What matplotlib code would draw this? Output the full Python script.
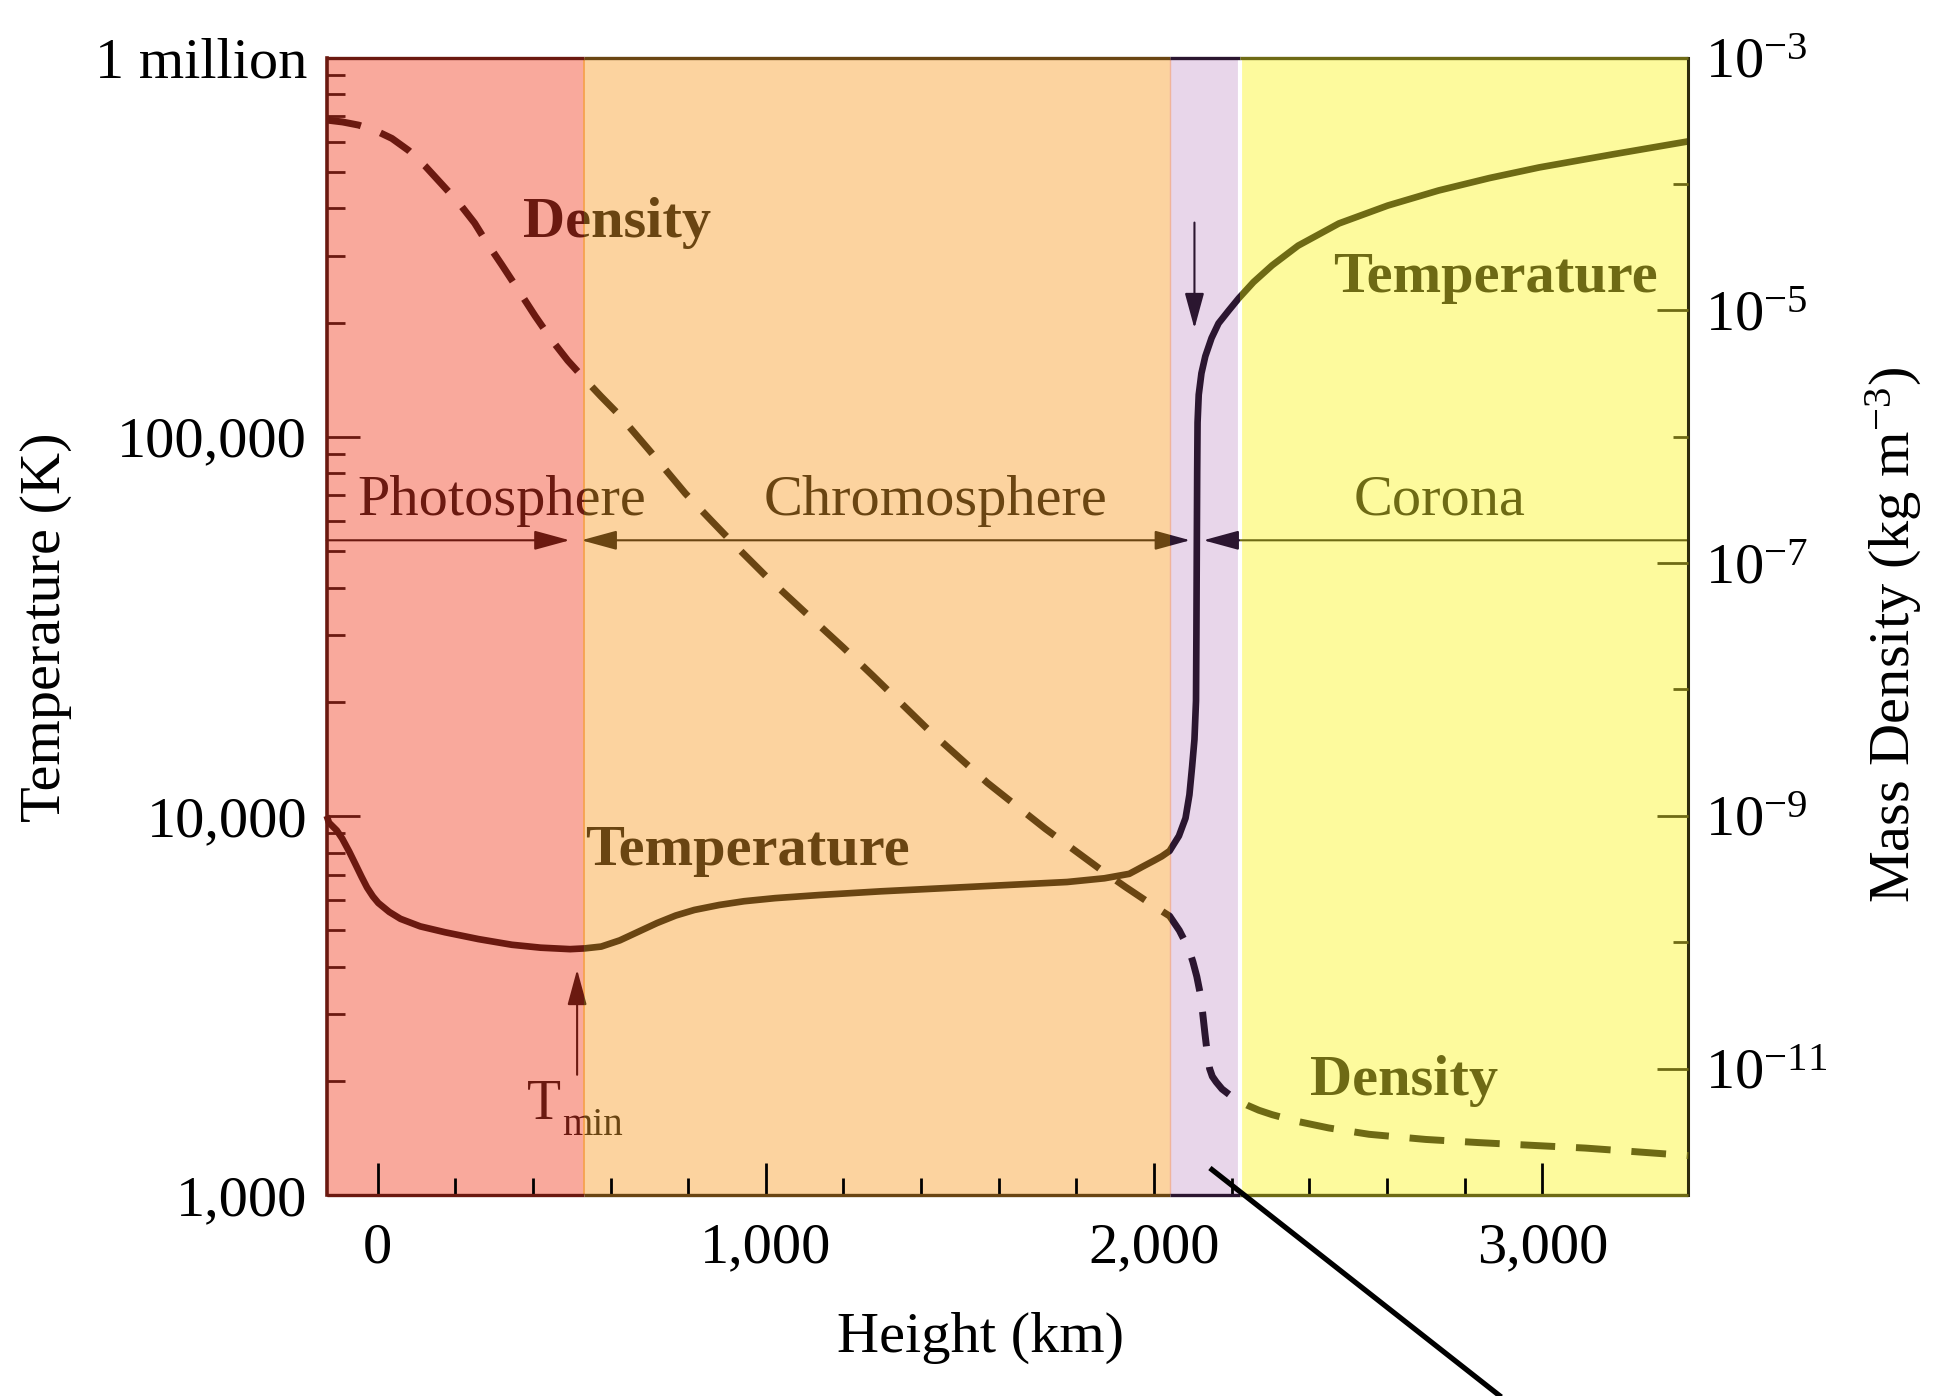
import matplotlib
matplotlib.use("Agg")
import matplotlib.pyplot as plt
from matplotlib.patches import FancyArrowPatch
from matplotlib.lines import Line2D
from matplotlib.transforms import Bbox, TransformedBbox, blended_transform_factory
from matplotlib.ticker import FixedLocator, NullFormatter, LogLocator

plt.rcParams['font.family'] = ['Liberation Serif', 'DejaVu Serif']
plt.rcParams['mathtext.fontset'] = 'custom'
plt.rcParams['mathtext.rm'] = 'Liberation Serif'
plt.rcParams['mathtext.it'] = 'Liberation Serif:italic'
plt.rcParams['mathtext.bf'] = 'Liberation Serif:bold'

# ---------------- data ----------------
# temperature profile of the solar atmosphere (height in km, T in K)
height_T = [-131, -125, -105, -91, -73, -56, -41, -27, -12, 2, 30, 59, 110, 174,
            260, 346, 420, 496, 533, 576, 624, 672, 720, 768, 816, 880, 944,
            1024, 1136, 1296, 1456, 1616, 1776, 1872, 1936, 1955, 1970, 2000,
            2020, 2040, 2064, 2081, 2091, 2098, 2104, 2108, 2109, 2110, 2111,
            2112, 2115, 2122, 2132, 2148, 2166, 2192, 2218, 2256, 2304, 2371,
            2476, 2602, 2733, 2864, 2992, 3184, 3376]
temperature = [10000, 9590, 9150, 8710, 8050, 7420, 6900, 6470, 6130, 5890, 5580,
               5350, 5110, 4930, 4730, 4570, 4490, 4450, 4470, 4520, 4694, 4948,
               5215, 5458, 5646, 5819, 5953, 6066, 6180, 6322, 6442, 6565, 6690,
               6843, 7030, 7200, 7340, 7620, 7820, 8080, 8850, 9860, 11360, 13500,
               15900, 20100, 30000, 50000, 80000, 109000, 129000, 147000, 163000,
               182000, 199000, 215000, 231700, 255600, 283000, 319000, 365000,
               407000, 446000, 481000, 513000, 556000, 601000]

# mass density profile (height in km, density in kg m^-3)
height_rho = [-131, -90, -49, -5, 37, 80, 123, 166, 209, 250, 278, 320, 363, 406,
              449, 490, 527, 575, 621, 700, 793, 860, 921, 1000, 1100, 1200, 1275,
              1420, 1571, 1720, 1867, 1926, 2000, 2040, 2065, 2089, 2100, 2110,
              2119, 2125, 2131, 2137, 2143, 2150, 2160, 2175, 2195, 2218, 2240,
              2270, 2304, 2364, 2450, 2554, 2700, 2833, 3111, 3376]
density = [3.20e-4, 3.09e-4, 2.92e-4, 2.64e-4, 2.29e-4, 1.84e-4, 1.38e-4, 9.9e-5,
           7.1e-5, 4.9e-5, 3.56e-5, 2.29e-5, 1.44e-5, 9.0e-6, 5.8e-6, 4.0e-6,
           3.0e-6, 2.09e-6, 1.50e-6, 7.8e-7, 3.55e-7, 2.16e-7, 1.38e-7, 7.9e-8,
           4.1e-8, 2.14e-8, 1.29e-8, 4.75e-9, 1.82e-9, 7.9e-10, 3.67e-10,
           2.74e-10, 1.93e-10, 1.61e-10, 1.24e-10, 8.9e-11, 7.0e-11, 5.36e-11,
           3.9e-11, 2.78e-11, 1.89e-11, 1.32e-11, 1.0e-11, 8.67e-12, 7.83e-12,
           6.89e-12, 6.18e-12, 5.58e-12, 5.13e-12, 4.68e-12, 4.32e-12, 3.85e-12,
           3.39e-12, 3.02e-12, 2.75e-12, 2.6e-12, 2.35e-12, 2.05e-12]

# atmospheric layers: edges in km
layer_edges = [-131, 533, 2040, 2222, 3376]
layer_fill = ['#F9A99C', '#FCD39F', '#E8D6EA', '#FDFA9D']
layer_ink = ['#6B1910', '#6A4512', '#2B1630', '#6E6A14']

height_ticks = [0, 1000, 2000, 3000]
height_tick_labels = ['0', '1,000', '2,000', '3,000']
height_minor = [200, 400, 600, 800, 1200, 1400, 1600, 1800, 2200, 2400, 2600, 2800]
temp_ticks = [1e3, 1e4, 1e5, 1e6]
temp_tick_labels = ['1,000', '10,000', '100,000', '1 million']
rho_ticks = [1e-3, 1e-5, 1e-7, 1e-9, 1e-11]
rho_tick_labels = [r'$\mathregular{10^{-3}}$', r'$\mathregular{10^{-5}}$',
                   r'$\mathregular{10^{-7}}$', r'$\mathregular{10^{-9}}$',
                   r'$\mathregular{10^{-11}}$']
rho_minor = [1e-4, 1e-6, 1e-8, 1e-10, 1e-12]

# ---------------- figure ----------------
fig = plt.figure(figsize=(19.48, 13.96), dpi=100)
ax = fig.add_axes([0.1677, 0.1440, 0.8667 - 0.1677, 0.9588 - 0.1440])
ax2 = ax.twinx()

xmin, xmax = layer_edges[0], layer_edges[-1]
ax.set_xlim(xmin, xmax)
ax.set_yscale('log')
ax.set_ylim(1e3, 1e6)
ax2.set_yscale('log')
ax2.set_ylim(1e-12, 1e-3)

for a in (ax, ax2):
    for s in a.spines.values():
        s.set_visible(False)

blend = blended_transform_factory(ax.transData, ax.transAxes)

# layer backgrounds
for x0, x1, fc in zip(layer_edges[:-1], layer_edges[1:], layer_fill):
    ax.axvspan(x0, x1, color=fc, lw=0, zorder=0)
ax.axvline(layer_edges[1], color='#F6A24F', lw=1.3, zorder=0.5)
ax.axvline(layer_edges[2], color='#F0B49C', lw=1.0, zorder=0.5)
ax.axvline(layer_edges[3], color='white', lw=3.0, zorder=0.5)

clip_edges = [-1e5] + layer_edges[1:-1] + [1e5]


def clip_to_layer(artist, i):
    box = TransformedBbox(Bbox.from_extents(clip_edges[i], 0, clip_edges[i + 1], 1), blend)
    artist.set_clip_box(box)
    artist.set_clip_on(True)


def per_layer(make):
    """Draw an element once per layer in that layer's ink, clipped to the layer."""
    for i, ink in enumerate(layer_ink):
        for art in make(ink):
            clip_to_layer(art, i)


# curves
per_layer(lambda c: ax.plot(height_T, temperature, color=c, lw=4.8,
                            solid_joinstyle='round', solid_capstyle='butt', zorder=3))
per_layer(lambda c: ax2.plot(height_rho, density, color=c, lw=5.0,
                             ls=(0, (5.0, 3.0)), dash_capstyle='butt',
                             dash_joinstyle='round', zorder=3))


# labels inside the plot
def label(x, y, s, size=42, weight='normal', ha='center'):
    per_layer(lambda c: [ax.text(x, y, s, color=c, fontsize=size, fontweight=weight,
                                 ha=ha, va='baseline', zorder=4)])


label(616, 335700, 'Density', weight='bold')
label(952, 7423, 'Temperature', weight='bold')
label(2878, 241000, 'Temperature', weight='bold')
label(2645, 1837, 'Density', weight='bold')
label(321, 62200, 'Photosphere')
label(1438, 62200, 'Chromosphere')
label(2735, 62200, 'Corona')
label(385, 1582, 'T', size=40, ha='left')
label(476, 1441, 'min', size=28, ha='left')

# arrows
arrow_T = 53300


def arrow(p0, p1, style):
    def make(c):
        fa = FancyArrowPatch(p0, p1, arrowstyle=style, mutation_scale=1,
                             color=c, lw=1.5, shrinkA=0, shrinkB=0, zorder=4)
        ax.add_patch(fa)
        return [fa]
    per_layer(make)


one = '-|>,head_length=22,head_width=6'
two = '<|-|>,head_length=22,head_width=6'
arrow((xmin, arrow_T), (495, arrow_T), one)
arrow((525, arrow_T), (2093, arrow_T), two)
arrow((xmax, arrow_T), (2127, arrow_T), one)
arrow((514, 2075), (514, 3930), one)
arrow((2104, 367000), (2104, 193000), one)

# frame, coloured by layer
for i, (x0, x1) in enumerate(zip(layer_edges[:-1], layer_edges[1:])):
    for yy in (0, 1):
        ax.plot([x0, x1], [yy, yy], transform=blend, color=layer_ink[i], lw=2.4,
                clip_on=False, solid_capstyle='butt', zorder=5)
ax.plot([xmin, xmin], [0, 1], transform=blend, color=layer_ink[0], lw=2.6,
        clip_on=False, solid_capstyle='projecting', zorder=5)
ax.plot([xmax, xmax], [0, 1], transform=blend, color='#2E2B0D', lw=2.2,
        clip_on=False, solid_capstyle='projecting', zorder=5)

# ticks
ax.set_xticks(height_ticks, labels=height_tick_labels)
ax.set_xticks(height_minor, minor=True)
ax.yaxis.set_major_locator(FixedLocator(temp_ticks))
ax.set_yticklabels(temp_tick_labels)
ax.yaxis.set_minor_locator(LogLocator(base=10, subs=range(2, 10)))
ax.yaxis.set_minor_formatter(NullFormatter())

ax.tick_params(axis='x', which='both', direction='in', width=2, labelsize=42,
               pad=20, top=False)
ax.tick_params(axis='x', which='major', length=23)
ax.tick_params(axis='x', which='minor', length=12)
ax.tick_params(axis='y', which='both', direction='in', width=2,
               color=layer_ink[0], labelsize=42, pad=14)
ax.tick_params(axis='y', which='major', length=24)
ax.tick_params(axis='y', which='minor', length=13)

ax2.yaxis.set_major_locator(FixedLocator(rho_ticks))
ax2.set_yticklabels(rho_tick_labels)
ax2.yaxis.set_minor_locator(FixedLocator(rho_minor))
ax2.yaxis.set_minor_formatter(NullFormatter())
ax2.tick_params(axis='y', which='both', direction='in', width=2,
                color=layer_ink[3], labelsize=42, pad=12)
ax2.tick_params(axis='y', which='major', length=22)
ax2.tick_params(axis='y', which='minor', length=11)


def ink_at(x):
    for i in range(len(layer_edges) - 1):
        if x < layer_edges[i + 1]:
            return layer_ink[i]
    return layer_ink[-1]


for t, x in zip(ax.xaxis.get_major_ticks(), height_ticks):
    t.tick1line.set_color(ink_at(x))
for t, x in zip(ax.xaxis.get_minor_ticks(), height_minor):
    t.tick1line.set_color(ink_at(x))

# axis titles
fig.text(0.0236, 0.5505, 'Temperature (K)', rotation=90, ha='center', va='center',
         fontsize=42)
fig.text(0.5035, 0.0317, 'Height (km)', ha='center', va='baseline', fontsize=42)
fig.text(0.972, 0.545, r'Mass Density (kg m$^{-3}$)', rotation=90, ha='center',
         va='center', fontsize=42)

# pointer leading off the bottom of the chart
fig.add_artist(Line2D([0.6211, 0.7857], [0.1633, -0.0172], transform=fig.transFigure,
                      color='black', lw=3.8, solid_capstyle='butt', zorder=10))

fig.savefig('out.png', dpi=100)
